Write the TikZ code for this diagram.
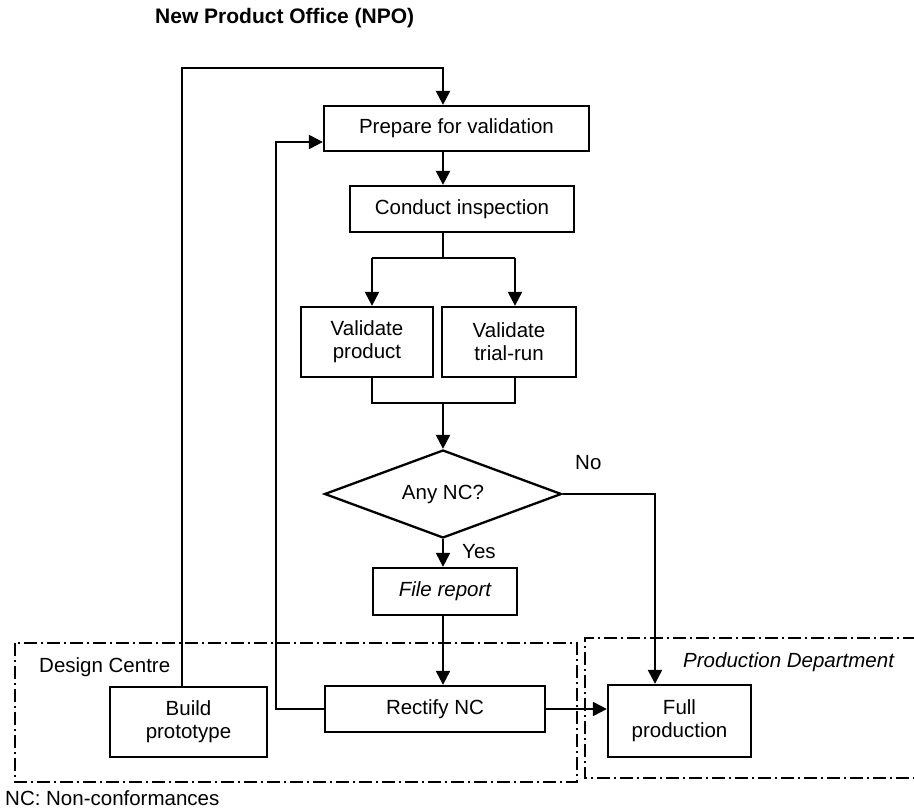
\documentclass[tikz,border=0pt]{standalone}
\usepackage{fontspec}
\setmainfont{Liberation Sans}
\usetikzlibrary{shapes.geometric,arrows.meta}
\tikzset{
  box/.style={draw, line width=2.3pt, rectangle, align=center, inner sep=0pt},
  decision/.style={draw, line width=2.3pt, diamond, aspect=2.7, inner sep=0pt,
    minimum width=237pt, minimum height=88pt},
  link/.style={line width=2.3pt},
  arr/.style={line width=2.3pt, -{Triangle[length=14pt,width=14pt]}},
  zone/.style={line width=2.2pt, dash pattern=on 13pt off 4pt on 2pt off 4pt},
  lbl/.style={inner sep=0pt}
}
\begin{document}
\begin{tikzpicture}[x=1pt,y=-1pt,font=\fontsize{20.5}{23}\selectfont]
\useasboundingbox (0,0) rectangle (914,810);

% title
\node[lbl, anchor=west, font=\fontsize{21}{24}\selectfont\bfseries] (title) at (155,18) {New Product Office (NPO)};

% department zones
\draw[zone] (15,643) rectangle (577,782);
\draw[zone] (916,638) -- (585,638) -- (585,778) -- (916,778);
\node[lbl, anchor=west] (dc) at (39,667) {Design Centre};
\node[lbl, anchor=west, font=\fontsize{20.5}{23}\selectfont\itshape] (pd) at (683,662) {Production Department};

% process steps
\node[box, minimum width=265pt, minimum height=45pt] (prep) at (456.5,128.5) {Prepare for validation};
\node[box, minimum width=224pt, minimum height=46pt] (insp) at (462,209) {Conduct inspection};
\node[box, minimum width=132pt, minimum height=70pt] (vprod) at (367,342) {Validate\\product};
\node[box, minimum width=134pt, minimum height=70pt] (vtrial) at (509,342) {Validate\\trial-run};
\node[decision] (nc) at (443,494) {Any NC?};
\node[box, minimum width=144pt, minimum height=47pt, font=\fontsize{20.5}{23}\selectfont\itshape] (report) at (445,591.5) {File report};
\node[box, minimum width=220pt, minimum height=46pt] (rect) at (435,709) {Rectify NC};
\node[box, minimum width=157pt, minimum height=70pt] (build) at (188.5,722) {Build\\prototype};
\node[box, minimum width=143pt, minimum height=72pt] (full) at (679.5,721) {Full\\production};

% routing points
\coordinate (col) at (443,0);
\coordinate (top) at (182,68);
\coordinate (split) at (443,258);
\coordinate (bl) at (372,258);
\coordinate (br) at (515,258);
\coordinate (jl) at (372,403);
\coordinate (jr) at (515,403);
\coordinate (jc) at (443,403);
\coordinate (nox) at (655,0);
\coordinate (ret) at (276,142);

% connectors
\draw[arr] (build.north -| top) |- (top) -| (prep.north -| col);
\draw[arr] (prep.south -| col) -- (insp.north -| col);
\draw[link] (insp.south -| col) -- (split);
\draw[link] (bl) -- (br);
\draw[arr] (bl) -- (bl |- vprod.north);
\draw[arr] (br) -- (br |- vtrial.north);
\draw[link] (jl |- vprod.south) -- (jl) -- (jr) -- (jr |- vtrial.south);
\draw[arr] (jc) -- (nc.north);
\draw[arr] (nc.east) -| (full.north -| nox);
\draw[arr] (nc.south) -- (report.north -| nc.south);
\draw[arr] (report.south -| col) -- (rect.north -| col);
\draw[arr] (rect.west) -| (ret) -- (ret -| prep.west);
\draw[arr] (rect.east) -- (full.west |- rect.east);

% branch labels
\node[lbl, anchor=west] (no) at (575,463) {No};
\node[lbl, anchor=west] (yes) at (462,552) {Yes};

% footnote
\node[lbl, anchor=west] (note) at (5,798) {NC: Non-conformances};
\end{tikzpicture}
\end{document}
